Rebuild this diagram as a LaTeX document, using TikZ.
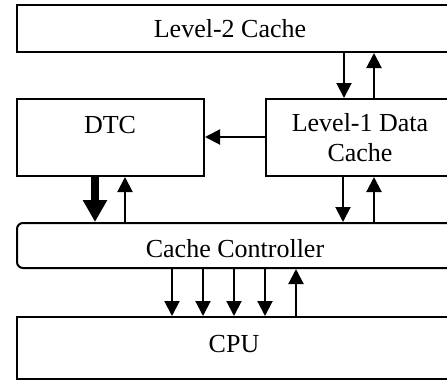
\documentclass[tikz,border=0pt]{standalone}
\usepackage{fontspec}
\setmainfont{Liberation Serif}
\usetikzlibrary{arrows.meta}
\begin{document}
\begin{tikzpicture}[x=1pt,y=-1pt,
  box/.style={draw, line width=2pt, inner sep=0pt, anchor=north west},
  lbl/.style={font=\fontsize{26}{30}\selectfont, inner sep=0pt, anchor=base, align=center},
  arr/.style={line width=2pt, -{Triangle[length=15pt,width=15pt]}},
  thickarr/.style={line width=8pt, -{Triangle[length=22pt,width=23pt]}}]
\useasboundingbox (0,0) rectangle (447,381);
\clip (0,0) rectangle (447,381);
% boxes
\node[box, minimum width=454pt, minimum height=47pt] (l2) at (16,4) {};
\node[box, minimum width=187pt, minimum height=77pt] (dtc) at (16,98) {};
\node[box, minimum width=205pt, minimum height=77pt] (l1) at (265,98) {};
\node[box, rounded corners=6pt, minimum width=454pt, minimum height=45pt] (cc) at (16,222) {};
\node[box, minimum width=454pt, minimum height=62pt] (cpu) at (16,316) {};
% labels
\node[lbl] (tl2) at (230,37) {Level-2 Cache};
\node[lbl] (tdtc) at (110,133) {DTC};
\node[lbl, anchor=center] (tl1) at (360,137.5) {Level-1 Data\\Cache};
\node[lbl] (tcc) at (235,257) {Cache Controller};
\node[lbl] (tcpu) at (234,352) {CPU};
% connectors
\draw[arr] (l2.south -| 344,0) -- (l1.north -| 344,0);
\draw[arr] (l1.north -| 374,0) -- (l2.south -| 374,0);
\draw[arr] (l1.west |- 0,137) -- (dtc.east |- 0,137);
\draw[thickarr] (dtc.south -| 95,0) -- (cc.north -| 95,0);
\draw[arr] (cc.north -| 125,0) -- (dtc.south -| 125,0);
\draw[arr] (l1.south -| 343,0) -- (cc.north -| 343,0);
\draw[arr] (cc.north -| 374,0) -- (l1.south -| 374,0);
\foreach \x in {172,203,234,265}
  \draw[arr] (cc.south -| \x,0) -- (cpu.north -| \x,0);
\draw[arr] (cpu.north -| 296,0) -- (cc.south -| 296,0);
\end{tikzpicture}
\end{document}
